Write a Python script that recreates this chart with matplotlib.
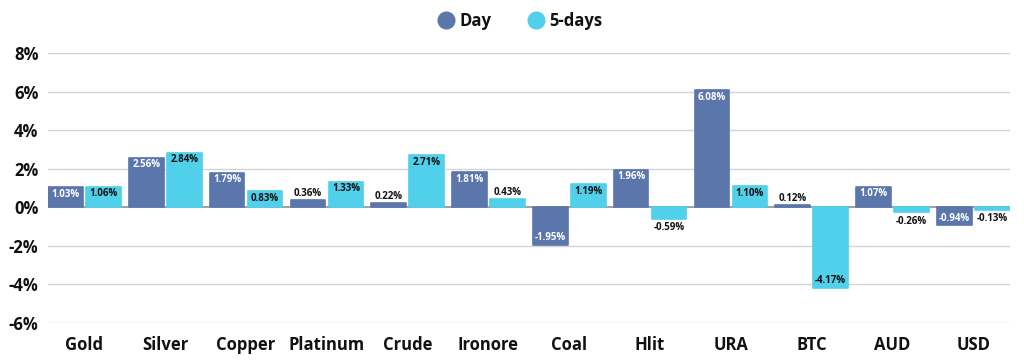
import numpy as np
import matplotlib
matplotlib.use('Agg')
import matplotlib.pyplot as plt
from matplotlib.lines import Line2D

categories = ['Gold', 'Silver', 'Copper', 'Platinum', 'Crude', 'Ironore',
              'Coal', 'Hlit', 'URA', 'BTC', 'AUD', 'USD']
day = [1.03, 2.56, 1.79, 0.36, 0.22, 1.81, -1.95, 1.96, 6.08, 0.12, 1.07, -0.94]
five_days = [1.06, 2.84, 0.83, 1.33, 2.71, 0.43, 1.19, -0.59, 1.10, -4.17, -0.26, -0.13]
yticks = [-6, -4, -2, 0, 2, 4, 6, 8]

DAY_COLOR = '#5a76ab'
FIVE_COLOR = '#50d0ea'
TEXT = '#111111'

plt.rcParams['font.family'] = ['Open Sans', 'DejaVu Sans']
plt.rcParams['font.weight'] = 'bold'

fig = plt.figure(figsize=(10.24, 3.63), dpi=100)
ax = fig.add_axes([0.047, 0.110, 0.939, 0.744])

x = np.arange(len(categories))
w = 0.43
gap = 0.02


def draw_series(offset, values, color, inside_color):
    bars = ax.bar(x + offset, values, width=w, color=color, edgecolor=color,
                  linewidth=1.2, joinstyle='round', zorder=3)
    for bar, v in zip(bars, values):
        cx = bar.get_x() + bar.get_width() / 2
        label = f'{v:.2f}%'
        if abs(v) >= 0.7:
            # inside the bar, near its end
            dy = -7 if v > 0 else 7
            ax.annotate(label, (cx, v), xytext=(0, dy), textcoords='offset pixels',
                        ha='center', va='center', fontsize=7, color=inside_color,
                        fontweight='bold', zorder=4)
        else:
            dy = 7 if v > 0 else -9
            ax.annotate(label, (cx, v), xytext=(0, dy), textcoords='offset pixels',
                        ha='center', va='center', fontsize=7, color=TEXT,
                        fontweight='bold', zorder=4)


draw_series(-(w / 2 + gap), day, DAY_COLOR, 'white')
draw_series(w / 2 + gap, five_days, FIVE_COLOR, TEXT)

ax.set_xlim(-0.45, len(categories) - 0.55)
ax.set_ylim(-6, 8)
ax.set_yticks(yticks)
ax.set_yticklabels([f'{t}%' for t in yticks])
ax.set_xticks(x)
ax.set_xticklabels(categories)
ax.tick_params(axis='both', length=0, labelsize=12, colors=TEXT)
ax.tick_params(axis='y', pad=7)
ax.tick_params(axis='x', pad=9)
for lbl in ax.get_xticklabels() + ax.get_yticklabels():
    lbl.set_fontweight('bold')

for t in yticks:
    ax.axhline(t, color='#999999' if t == 0 else '#d4d4d4',
               linewidth=1.3 if t == 0 else 1.0, zorder=1)
for s in ax.spines.values():
    s.set_visible(False)

handles = [
    Line2D([], [], marker='o', linestyle='', markersize=12, color=DAY_COLOR, label='Day'),
    Line2D([], [], marker='o', linestyle='', markersize=12, color=FIVE_COLOR, label='5-days'),
]
leg = fig.legend(handles=handles, loc='center', bbox_to_anchor=(0.508, 0.942), ncol=2,
                 frameon=False, fontsize=12, handletextpad=0.3, columnspacing=2.2,
                 handlelength=1.0)
for t in leg.get_texts():
    t.set_fontweight('bold')
    t.set_color(TEXT)

plt.savefig('out.png', dpi=100)
plt.close(fig)
